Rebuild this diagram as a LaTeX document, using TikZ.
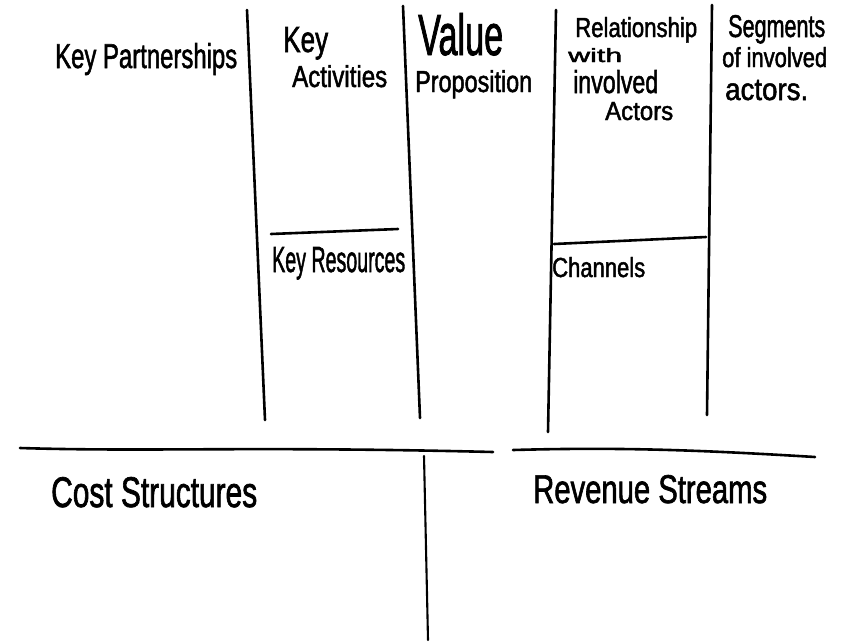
\documentclass[tikz,border=0pt]{standalone}
\usepackage{fontspec}
\usepackage{graphicx}
\newfontfamily\hand[FakeStretch=0.8,FakeBold=1.6]{Liberation Sans}
\begin{document}
\begin{tikzpicture}[x=1pt,y=-1pt,
  pen/.style={line width=2.6pt,line cap=round,line join=round,black},
  thinpen/.style={line width=2.1pt,line cap=round,black},
  lbl/.style={inner sep=0pt,anchor=base west,font=\hand}]
\useasboundingbox[fill=white] (0,0) rectangle (842,643);

% column dividers of the upper band
\coordinate (c1t) at (247,10);  \coordinate (c1b) at (265,420);
\coordinate (c2t) at (403,6);   \coordinate (c2b) at (420,418);
\coordinate (c3t) at (556,10);  \coordinate (c3b) at (548,432);
\coordinate (c4t) at (712,5);   \coordinate (c4b) at (707,415);
\draw[pen] (c1t) -- (c1b);
\draw[pen] (c2t) -- (c2b);
\draw[pen] (c3t) -- (c3b);
\draw[pen] (c4t) -- (c4b);

% splits inside the second and fourth columns
\coordinate (ka) at (271,234); \coordinate (kb) at (398,229);
\coordinate (ca) at (554,244); \coordinate (cb) at (706,237);
\draw[pen] (ka) -- (kb);
\draw[pen] (ca) -- (cb);

% lower band
\coordinate (la) at (20,448);  \coordinate (lb) at (493,452);
\coordinate (ra) at (513,450); \coordinate (rb) at (815,457);
\coordinate (mt) at (424,456); \coordinate (mb) at (428,640);
\draw[pen] (la) .. controls (150,452) and (250,446) .. (lb);
\draw[pen] (ra) .. controls (620,447) and (700,450) .. (rb);
\draw[thinpen] (mt) -- (mb);

% block titles
\node[lbl] (kp)  at (55,68)   {\resizebox{182pt}{25pt}{Key Partnerships}};
\node[lbl] (ka1) at (283,52)  {\resizebox{45pt}{25pt}{Key}};
\node[lbl] (ka2) at (292,87)  {\resizebox{95pt}{22pt}{Activities}};
\node[lbl] (vp1) at (418,55)  {\resizebox{85pt}{42pt}{Value}};
\node[lbl] (vp2) at (415,92)  {\resizebox{117pt}{22pt}{Proposition}};
\node[lbl] (rl1) at (575,37)  {\resizebox{122pt}{20pt}{Relationship}};
\node[lbl] (rl2) at (568,62)  {\resizebox{54pt}{14pt}{with}};
\node[lbl] (rl3) at (573,93)  {\resizebox{85pt}{23pt}{involved}};
\node[lbl] (rl4) at (605,120) {\resizebox{68pt}{18pt}{Actors}};
\node[lbl] (sg1) at (728,37)  {\resizebox{97pt}{22pt}{Segments}};
\node[lbl] (sg2) at (722,67)  {\resizebox{105pt}{20pt}{of involved}};
\node[lbl] (sg3) at (725,100) {\resizebox{83pt}{20pt}{actors.}};
\node[lbl] (kr)  at (272,272) {\resizebox{133pt}{25pt}{Key Resources}};
\node[lbl] (ch)  at (552,277) {\resizebox{93pt}{20pt}{Channels}};
\node[lbl] (cs)  at (51,507)  {\resizebox{206pt}{30pt}{Cost Structures}};
\node[lbl] (rs)  at (533,503) {\resizebox{234pt}{28pt}{Revenue Streams}};
\end{tikzpicture}
\end{document}
